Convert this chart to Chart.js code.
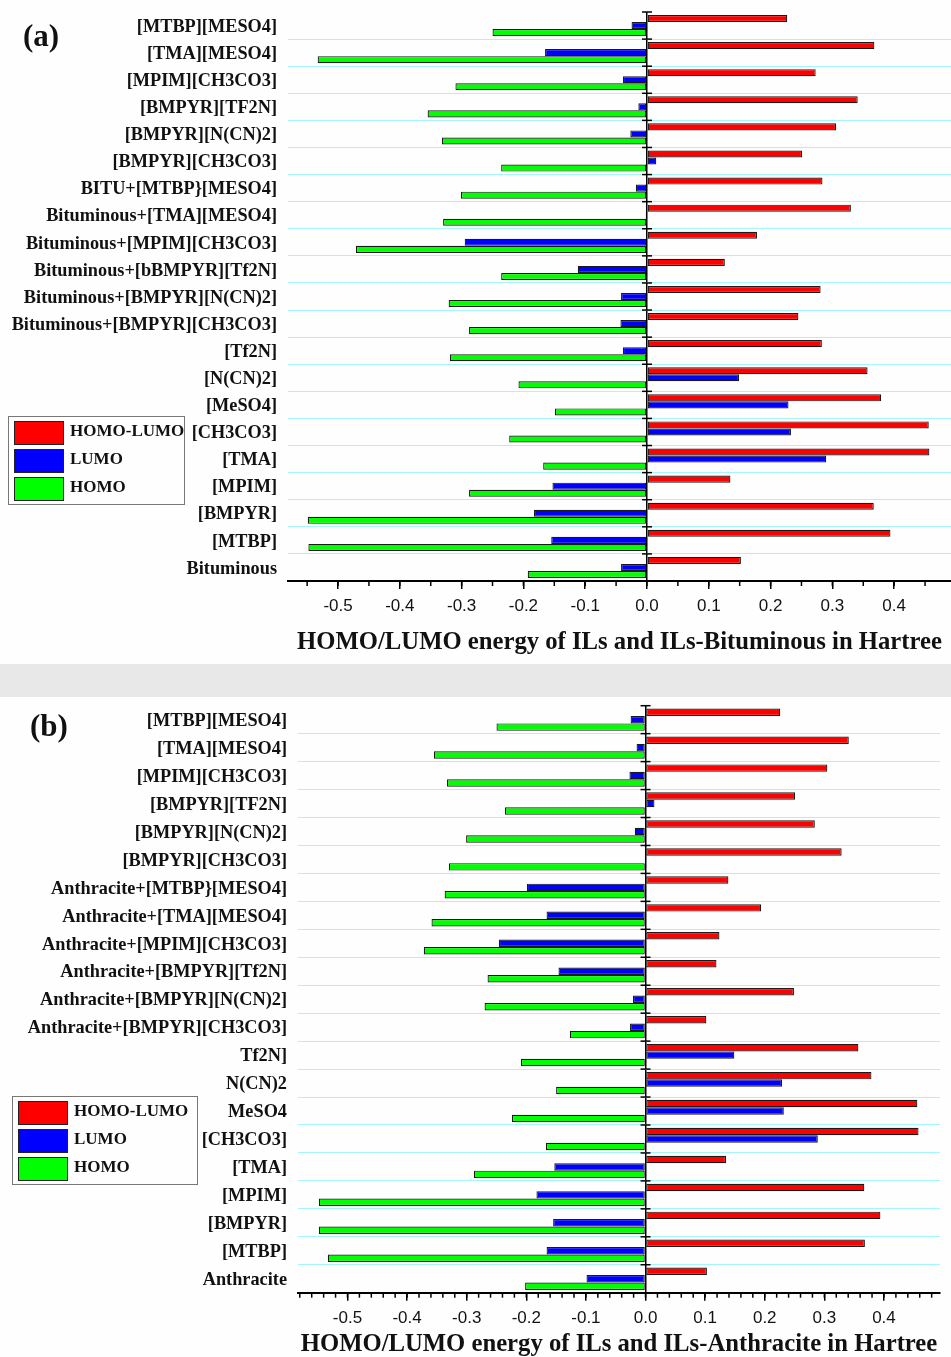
<!DOCTYPE html>
<html>
<head>
<meta charset="utf-8">
<script src="https://cdn.jsdelivr.net/npm/chart.js@4.4.1/dist/chart.umd.min.js"></script>
<style>
    body { margin: 0; background: #fefefe; }
    #page { position: relative; width: 951px; height: 1357px; overflow: hidden; }
    canvas { position: absolute; left: 0; }
    #chartA { top: 0; }
    #chartB { top: 697px; }
    .band { position: absolute; left: 0; top: 664px; width: 951px; height: 33px; background: #e8e8e8; }
    .tag { position: absolute; font: bold 31px 'Liberation Serif', 'Times New Roman', serif; line-height: 31px; color: #111; }
    .legend { position: absolute; border: 1px solid #777; box-sizing: border-box; }
    .legend .item { position: absolute; left: 5px; height: 24px; width: 100%; }
    .legend .swatch { position: absolute; left: 0; top: 0; width: 50px; height: 24px; box-sizing: border-box; border: 1.5px solid #222; }
    .legend .name { position: absolute; left: 56px; top: 0; line-height: 26px; font: bold 17px 'Liberation Serif', 'Times New Roman', serif; color: #111; white-space: nowrap; }
</style>
</head>
<body>
<div id="page">
    <canvas id="chartA" width="951" height="662"></canvas>
    <div class="band"></div>
    <canvas id="chartB" width="951" height="660"></canvas>
    <div class="tag" style="left:23px; top:20px;">(a)</div>
    <div class="tag" style="left:30px; top:710px;">(b)</div>
    <div class="legend" id="legendA" style="left:8px; top:416px; width:177px; height:89px;"></div>
    <div class="legend" id="legendB" style="left:12px; top:1096px; width:186px; height:89px;"></div>
</div>
<script>
// Series shared by both panels
const seriesNames = ['HOMO-LUMO', 'LUMO', 'HOMO'];
const seriesColors = ['#ff0000', '#0000ff', '#00ff00'];

// Panel (a): ILs and ILs-Bituminous
const labelsA = ['[MTBP][MESO4]', '[TMA][MESO4]', '[MPIM][CH3CO3]', '[BMPYR][TF2N]', '[BMPYR][N(CN)2]',
    '[BMPYR][CH3CO3]', 'BITU+[MTBP}[MESO4]', 'Bituminous+[TMA][MESO4]', 'Bituminous+[MPIM][CH3CO3]',
    'Bituminous+[bBMPYR][Tf2N]', 'Bituminous+[BMPYR][N(CN)2]', 'Bituminous+[BMPYR][CH3CO3]',
    '[Tf2N]', '[N(CN)2]', '[MeSO4]', '[CH3CO3]', '[TMA]', '[MPIM]', '[BMPYR]', '[MTBP]', 'Bituminous'];
const gapA = [0.227, 0.368, 0.273, 0.341, 0.306, 0.251, 0.284, 0.330, 0.178, 0.126, 0.281,
    0.245, 0.283, 0.357, 0.379, 0.456, 0.457, 0.135, 0.367, 0.394, 0.152];
const lumoA = [-0.025, -0.165, -0.039, -0.014, -0.027, 0.015, -0.018, -0.002, -0.295, -0.112, -0.042,
    -0.043, -0.039, 0.149, 0.229, 0.233, 0.290, -0.153, -0.183, -0.155, -0.042];
const homoA = [-0.250, -0.533, -0.310, -0.355, -0.332, -0.236, -0.301, -0.330, -0.471, -0.236, -0.321,
    -0.288, -0.319, -0.208, -0.149, -0.223, -0.168, -0.288, -0.549, -0.548, -0.193];

// Panel (b): ILs and ILs-Anthracite
const labelsB = ['[MTBP][MESO4]', '[TMA][MESO4]', '[MPIM][CH3CO3]', '[BMPYR][TF2N]', '[BMPYR][N(CN)2]',
    '[BMPYR][CH3CO3]', 'Anthracite+[MTBP}[MESO4]', 'Anthracite+[TMA][MESO4]', 'Anthracite+[MPIM][CH3CO3]',
    'Anthracite+[BMPYR][Tf2N]', 'Anthracite+[BMPYR][N(CN)2]', 'Anthracite+[BMPYR][CH3CO3]',
    'Tf2N]', 'N(CN)2', 'MeSO4', '[CH3CO3]', '[TMA]', '[MPIM]', '[BMPYR]', '[MTBP]', 'Anthracite'];
const gapB = [0.226, 0.341, 0.305, 0.251, 0.284, 0.329, 0.139, 0.194, 0.124, 0.119, 0.249,
    0.102, 0.357, 0.379, 0.456, 0.458, 0.135, 0.367, 0.394, 0.368, 0.103];
const lumoB = [-0.025, -0.015, -0.027, 0.015, -0.018, -0.001, -0.199, -0.166, -0.246, -0.146, -0.021,
    -0.026, 0.149, 0.229, 0.232, 0.289, -0.153, -0.183, -0.155, -0.166, -0.099];
const homoB = [-0.250, -0.355, -0.333, -0.236, -0.301, -0.330, -0.337, -0.359, -0.372, -0.265, -0.270,
    -0.127, -0.209, -0.150, -0.224, -0.167, -0.288, -0.548, -0.548, -0.533, -0.202];

const serif = "'Liberation Serif', 'Times New Roman', serif";
const sans = "'Liberation Sans', Arial, sans-serif";

// Short ticks crossing the zero line at every category boundary
const zeroTicks = {
    id: 'zeroTicks',
    afterDatasetsDraw(chart) {
        const c = chart.ctx;
        const x0 = chart.scales.x.getPixelForValue(0);
        const ys = chart.scales.y;
        c.save();
        c.strokeStyle = '#000';
        c.lineWidth = 1.5;
        for (let i = 0; i < chart.data.labels.length; i++) {
            const py = ys.getPixelForValue(i - 0.5);
            c.beginPath();
            c.moveTo(x0 - 5, py);
            c.lineTo(x0 + 5, py);
            c.stroke();
        }
        c.restore();
    }
};

// Minor ticks under the value axis
const minorTicks = {
    id: 'minorTicks',
    afterDraw(chart, args, opts) {
        const xs = chart.scales.x;
        const c = chart.ctx;
        const y0 = chart.chartArea.bottom;
        c.save();
        c.strokeStyle = '#000';
        c.lineWidth = 1.5;
        const k0 = Math.ceil(xs.min / opts.step);
        const k1 = Math.floor(xs.max / opts.step);
        for (let k = k0; k <= k1; k++) {
            const px = xs.getPixelForValue(k * opts.step);
            c.beginPath();
            c.moveTo(px, y0);
            c.lineTo(px, y0 + 5);
            c.stroke();
        }
        c.restore();
    }
};

function buildChart(id, labels, series, cfg) {
    const ctx = document.getElementById(id).getContext('2d');
    return new Chart(ctx, {
        type: 'bar',
        data: {
            labels: labels,
            datasets: series.map((data, i) => ({
                label: seriesNames[i],
                data: data,
                backgroundColor: seriesColors[i],
                borderColor: '#1a1a1a',
                borderWidth: 1.2,
                borderSkipped: false,
                categoryPercentage: cfg.catPct,
                barPercentage: 1
            }))
        },
        options: {
            indexAxis: 'y',
            responsive: false,
            animation: false,
            layout: { padding: { top: cfg.top, right: cfg.right, left: 0, bottom: 0 } },
            plugins: {
                legend: { display: false },
                tooltip: { enabled: false },
                minorTicks: { step: cfg.minor }
            },
            scales: {
                x: {
                    type: 'linear',
                    min: cfg.min,
                    max: cfg.max,
                    ticks: {
                        stepSize: 0.1,
                        includeBounds: false,
                        color: '#111',
                        padding: 7,
                        font: { family: sans, size: 17 },
                        callback: v => Math.abs(v) < 1e-9 ? '0.0' : v.toFixed(1)
                    },
                    grid: {
                        color: c => (c.tick && Math.abs(c.tick.value) < 1e-9) ? '#000' : 'rgba(0,0,0,0)',
                        lineWidth: 1.5,
                        tickColor: '#000',
                        tickWidth: 1.5,
                        tickLength: 8
                    },
                    border: { display: true, color: '#000', width: 2 },
                    title: {
                        display: true,
                        text: cfg.title,
                        color: '#111',
                        font: { family: serif, size: 24.7, weight: 'bold', lineHeight: 1 },
                        padding: { top: 0, bottom: cfg.titlePad }
                    },
                    afterFit: s => {
                        s.height = cfg.xHeight;
                        s.paddingLeft = 0;
                        s.paddingRight = 0;
                    }
                },
                y: {
                    ticks: {
                        autoSkip: false,
                        color: '#111',
                        padding: 11,
                        labelOffset: 1.5,
                        font: { family: serif, size: 18.3, weight: 'bold' }
                    },
                    grid: {
                        offset: true,
                        drawTicks: false,
                        color: c => c.index === 0 ? 'rgba(0,0,0,0)' : '#a4f6fd',
                        lineWidth: 1
                    },
                    border: { display: false },
                    afterFit: s => {
                        s.width = cfg.left;
                        s.paddingTop = 0;
                        s.paddingBottom = 0;
                    }
                }
            }
        },
        plugins: [zeroTicks, minorTicks]
    });
}

buildChart('chartA', labelsA, [gapA, lumoA, homoA], {
    title: 'HOMO/LUMO energy of ILs and ILs-Bituminous in Hartree',
    min: -0.581, max: 0.492, minor: 0.05, catPct: 0.78,
    top: 12, right: 0, left: 288, xHeight: 81, titlePad: 6.8
});

buildChart('chartB', labelsB, [gapB, lumoB, homoB], {
    title: 'HOMO/LUMO energy of ILs and ILs-Anthracite in Hartree',
    min: -0.583, max: 0.494, minor: 0.02, catPct: 0.8,
    top: 8.7, right: 11, left: 298, xHeight: 64.3, titlePad: 0
});

// Legend boxes
function fillLegend(id) {
    const box = document.getElementById(id);
    seriesNames.forEach((name, i) => {
        const item = document.createElement('div');
        item.className = 'item';
        item.style.top = (4 + i * 28) + 'px';
        item.innerHTML = `<div class="swatch" style="background:${seriesColors[i]}"></div><div class="name">${name}</div>`;
        box.appendChild(item);
    });
}
fillLegend('legendA');
fillLegend('legendB');
</script>
</body>
</html>
